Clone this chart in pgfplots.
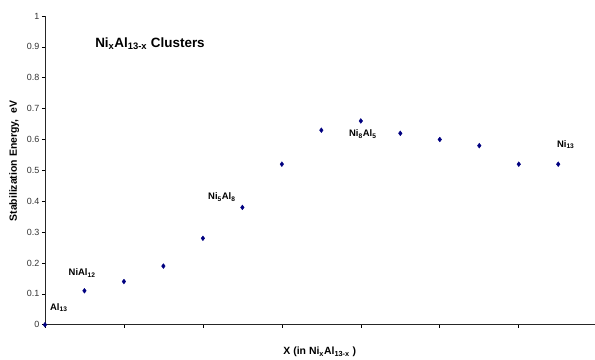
\documentclass[border=0pt]{standalone}
\usepackage{pgfplots}
\pgfplotsset{compat=1.18}
\usepackage{fontspec}
\setmainfont{Liberation Sans}
\definecolor{ptcol}{HTML}{000080}
\begin{document}
\begin{tikzpicture}
\begin{axis}[
  scale only axis,
  width=550bp, height=309bp,
  xmin=0, xmax=13.92, ymin=0, ymax=1,
  axis lines=left,
  axis line style={-, line width=0.9bp, draw=black!85},
  tick align=outside,
  major tick length=3bp,
  tick style={line width=0.6bp, black},
  xtick={0,2,...,12},
  xticklabels={},
  ytick={0,0.1,...,1},
  yticklabels={0,0.1,0.2,0.3,0.4,0.5,0.6,0.7,0.8,0.9,1},
  yticklabel style={font=\fontsize{9}{10}\selectfont, black!80, xshift=1bp},
  /pgf/number format/assume math mode=true,
  ylabel={\textbf{Stabilization Energy,\ \ eV}},
  ylabel style={font=\fontsize{10.5}{11}\selectfont, at={(axis description cs:-0.056,0.53)}, anchor=center},
  xlabel={\textbf{X (in Ni\textsubscript{x}Al\textsubscript{13-x} )}},
  xlabel style={font=\fontsize{10.5}{11}\selectfont, at={(axis description cs:0.5,0)}, anchor=center, yshift=-27bp},
  clip=false,
]
\addplot[only marks, mark=diamond*, mark size=2.4bp, color=ptcol] coordinates {
(0,0) (1,0.11) (2,0.14) (3,0.19) (4,0.28) (5,0.38) (6,0.52) (7,0.63)
(8,0.66) (9,0.62) (10,0.60) (11,0.58) (12,0.52) (13,0.52)};
\coordinate (sw) at (rel axis cs:0,0);
\coordinate (ne) at (rel axis cs:1,1);
\node[font=\fontsize{9.5}{10}\selectfont\bfseries] at (axis cs:0.35,0.055) {Al\textsubscript{13}};
\node[font=\fontsize{9.5}{10}\selectfont\bfseries] at (axis cs:0.94,0.168) {NiAl\textsubscript{12}};
\node[font=\fontsize{9.5}{10}\selectfont\bfseries] at (axis cs:4.48,0.414) {Ni\textsubscript{5}Al\textsubscript{8}};
\node[font=\fontsize{9.5}{10}\selectfont\bfseries] at (axis cs:8.05,0.618) {Ni\textsubscript{8}Al\textsubscript{5}};
\node[font=\fontsize{9.5}{10}\selectfont\bfseries] at (axis cs:13.19,0.583) {Ni\textsubscript{13}};
\node[font=\fontsize{13.5}{15}\selectfont\bfseries] at (axis cs:2.66,0.909) {Ni\textsubscript{x}Al\textsubscript{13-x} Clusters};
\end{axis}
\path (sw) ++(-45bp,-31bp) coordinate (bbsw);
\path (ne) ++(0bp,16bp) coordinate (bbne);
\path[use as bounding box] (bbsw) rectangle (bbne);
\end{tikzpicture}
\end{document}
